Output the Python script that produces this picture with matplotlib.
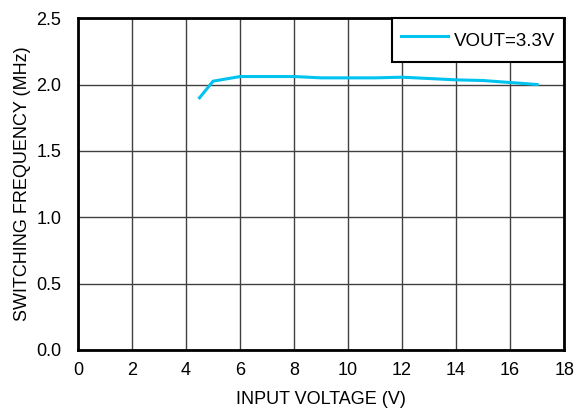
import matplotlib
matplotlib.use("Agg")
import matplotlib.pyplot as plt

plt.rcParams['font.family'] = ['Liberation Sans', 'DejaVu Sans']

vin = [4.5, 5, 6, 7, 8, 9, 10, 11, 12, 13, 14, 15, 16, 17]
fsw = [1.90, 2.025, 2.06, 2.06, 2.06, 2.05, 2.05, 2.05, 2.055, 2.045, 2.035, 2.03, 2.015, 2.00]
series_label = "VOUT=3.3V"
xticks = [0, 2, 4, 6, 8, 10, 12, 14, 16, 18]
yticks = [0.0, 0.5, 1.0, 1.5, 2.0, 2.5]

fig = plt.figure(figsize=(5.78, 4.12), dpi=100)
ax = fig.add_axes([0.135, 0.1505, 0.841, 0.8055])
ax.plot(vin, fsw, color='#00C3F0', lw=2.2, label=series_label)
ax.set_xlim(0, 18)
ax.set_ylim(0, 2.5)
ax.set_xticks(xticks)
ax.set_yticks(yticks)
ax.set_yticklabels([f"{v:.1f}" for v in yticks])
ax.grid(True, color='#404040', lw=1.0)
ax.set_axisbelow(True)
for s in ax.spines.values():
    s.set_linewidth(2.0)
    s.set_color('black')
ax.tick_params(axis='y', length=0, labelsize=13, pad=12)
ax.tick_params(axis='x', length=0, labelsize=13, pad=9)
ax.set_xlabel("INPUT VOLTAGE (V)", fontsize=13, labelpad=8)
ax.set_ylabel("SWITCHING FREQUENCY (MHz)", fontsize=13, labelpad=4)
leg = ax.legend(loc='upper right', fontsize=13.5, fancybox=False, framealpha=1,
                edgecolor='black', borderaxespad=0.0, handlelength=2.5,
                handletextpad=0.35, borderpad=0.45, handleheight=1.8)
leg.get_frame().set_linewidth(1.5)
fig.savefig("out.png", dpi=100)
